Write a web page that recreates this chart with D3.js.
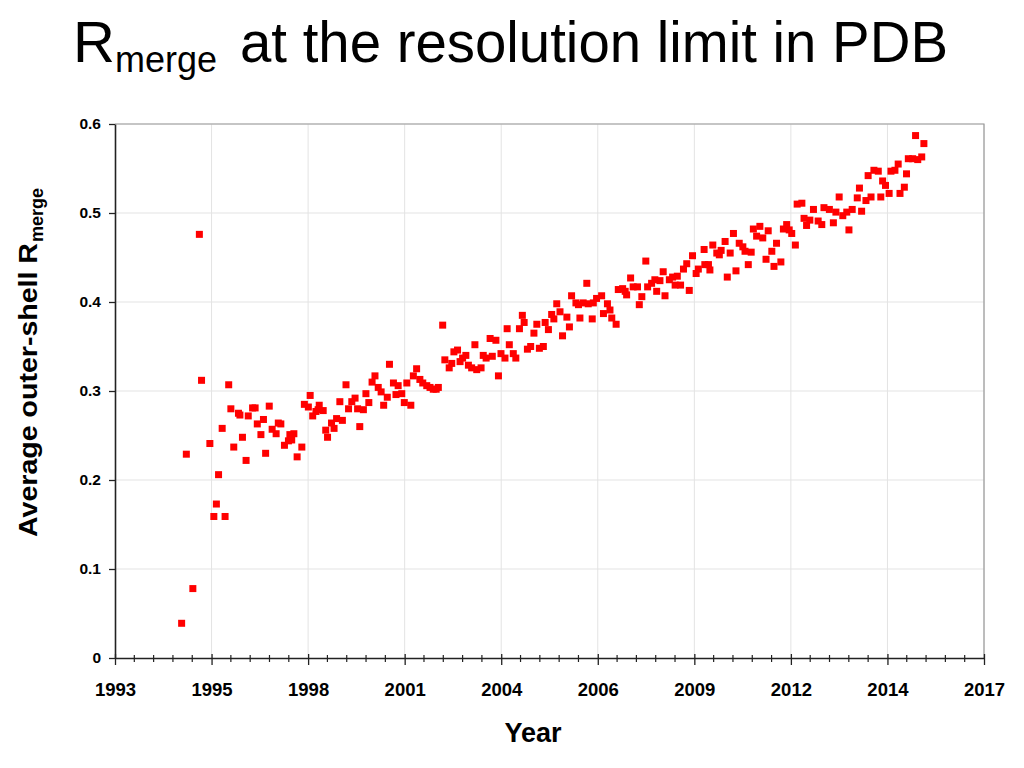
<!DOCTYPE html>
<html>
<head>
<meta charset="utf-8">
<script src="https://cdn.jsdelivr.net/npm/d3@7"></script>
<style>
  html, body { margin: 0; padding: 0; background: #fff; }
  svg { display: block; font-family: "Liberation Sans", Arial, Helvetica, sans-serif; }
</style>
</head>
<body>
<svg id="chart" width="1024" height="768"></svg>
<script>
// ---- data ----
const years = [
  1994.84, 1994.97, 1995.15, 1995.33, 1995.39, 1995.62, 1995.73, 1995.80, 1995.86, 1995.96,
  1996.04, 1996.14, 1996.20, 1996.28, 1996.41, 1996.45, 1996.52, 1996.62, 1996.68, 1996.80,
  1996.87, 1996.93, 1997.03, 1997.10, 1997.16, 1997.26, 1997.34, 1997.45, 1997.51, 1997.58,
  1997.68, 1997.79, 1997.83, 1997.88, 1997.94, 1998.03, 1998.16, 1998.23, 1998.34, 1998.39,
  1998.46, 1998.55, 1998.61, 1998.64, 1998.75, 1998.82, 1998.87, 1998.98, 1999.05, 1999.12,
  1999.21, 1999.28, 1999.38, 1999.45, 1999.54, 1999.63, 1999.70, 1999.76, 1999.86, 1999.93,
  2000.01, 2000.10, 2000.18, 2000.27, 2000.35, 2000.42, 2000.52, 2000.58, 2000.69, 2000.76,
  2000.82, 2000.92, 2000.99, 2001.06, 2001.17, 2001.24, 2001.33, 2001.42, 2001.50, 2001.61,
  2001.70, 2001.79, 2001.87, 2001.93, 2002.05, 2002.11, 2002.23, 2002.30, 2002.36, 2002.46,
  2002.53, 2002.60, 2002.69, 2002.76, 2002.85, 2002.94, 2002.99, 2003.11, 2003.17, 2003.25,
  2003.36, 2003.42, 2003.52, 2003.59, 2003.66, 2003.77, 2003.83, 2003.89, 2004.00, 2004.07,
  2004.17, 2004.25, 2004.30, 2004.39, 2004.48, 2004.57, 2004.65, 2004.72, 2004.83, 2004.88,
  2004.97, 2005.06, 2005.12, 2005.20, 2005.29, 2005.36, 2005.48, 2005.55, 2005.61, 2005.73,
  2005.80, 2005.84, 2005.93, 2006.03, 2006.07, 2006.18, 2006.21, 2006.30, 2006.44, 2006.49,
  2006.60, 2006.67, 2006.72, 2006.84, 2006.90, 2007.02, 2007.09, 2007.13, 2007.24, 2007.31,
  2007.43, 2007.48, 2007.55, 2007.66, 2007.71, 2007.82, 2007.91, 2007.96, 2008.05, 2008.14,
  2008.19, 2008.31, 2008.40, 2008.47, 2008.53, 2008.62, 2008.70, 2008.79, 2008.86, 2008.95,
  2009.05, 2009.11, 2009.27, 2009.29, 2009.39, 2009.43, 2009.51, 2009.62, 2009.69, 2009.74,
  2009.85, 2009.91, 2009.99, 2010.08, 2010.15, 2010.24, 2010.34, 2010.40, 2010.49, 2010.57,
  2010.63, 2010.72, 2010.81, 2010.89, 2010.98, 2011.04, 2011.14, 2011.20, 2011.27, 2011.39,
  2011.46, 2011.55, 2011.62, 2011.69, 2011.79, 2011.84, 2011.97, 2012.03, 2012.10, 2012.19,
  2012.29, 2012.42, 2012.52, 2012.58, 2012.73, 2012.84, 2012.91, 2013.00, 2013.10, 2013.21,
  2013.27, 2013.36, 2013.50, 2013.56, 2013.62, 2013.74, 2013.80, 2013.88, 2013.96, 2014.08,
  2014.15, 2014.20, 2014.28, 2014.38, 2014.43, 2014.54, 2014.63, 2014.68, 2014.80, 2014.86,
  2014.91, 2015.03, 2015.11, 2015.17, 2015.28, 2015.34
];
const rmerge = [
  0.039, 0.229, 0.078, 0.476, 0.312, 0.241, 0.159, 0.173, 0.206, 0.258,
  0.159, 0.307, 0.280, 0.237, 0.275, 0.273, 0.248, 0.222, 0.272, 0.281,
  0.281, 0.263, 0.251, 0.268, 0.230, 0.283, 0.257, 0.252, 0.264, 0.263,
  0.239, 0.244, 0.251, 0.245, 0.252, 0.226, 0.237, 0.285, 0.282, 0.295,
  0.272, 0.277, 0.279, 0.284, 0.278, 0.256, 0.248, 0.264, 0.258, 0.269,
  0.288, 0.267, 0.307, 0.280, 0.288, 0.292, 0.280, 0.260, 0.279, 0.297,
  0.287, 0.310, 0.317, 0.304, 0.299, 0.284, 0.293, 0.330, 0.309, 0.296,
  0.306, 0.297, 0.287, 0.309, 0.284, 0.317, 0.325, 0.313, 0.309, 0.306,
  0.304, 0.302, 0.302, 0.304, 0.374, 0.335, 0.326, 0.331, 0.344, 0.346,
  0.333, 0.337, 0.340, 0.329, 0.326, 0.352, 0.324, 0.326, 0.340, 0.337,
  0.359, 0.339, 0.357, 0.317, 0.342, 0.337, 0.370, 0.352, 0.342, 0.337,
  0.370, 0.385, 0.377, 0.347, 0.350, 0.365, 0.375, 0.348, 0.350, 0.377,
  0.369, 0.386, 0.381, 0.398, 0.389, 0.362, 0.383, 0.372, 0.407, 0.399,
  0.397, 0.382, 0.399, 0.421, 0.398, 0.381, 0.399, 0.404, 0.407, 0.387,
  0.398, 0.391, 0.382, 0.375, 0.414, 0.415, 0.412, 0.408, 0.427, 0.417,
  0.417, 0.397, 0.406, 0.446, 0.417, 0.421, 0.425, 0.412, 0.424, 0.434,
  0.407, 0.425, 0.428, 0.419, 0.429, 0.419, 0.437, 0.443, 0.413, 0.452,
  0.432, 0.437, 0.459, 0.442, 0.442, 0.436, 0.464, 0.455, 0.453, 0.458,
  0.468, 0.428, 0.455, 0.477, 0.435, 0.466, 0.462, 0.457, 0.442, 0.456,
  0.482, 0.474, 0.485, 0.472, 0.448, 0.480, 0.457, 0.440, 0.466, 0.445,
  0.482, 0.487, 0.481, 0.477, 0.464, 0.510, 0.511, 0.494, 0.486, 0.492,
  0.504, 0.491, 0.487, 0.506, 0.504, 0.489, 0.501, 0.518, 0.497, 0.501,
  0.481, 0.504, 0.517, 0.528, 0.502, 0.514, 0.542, 0.518, 0.548, 0.547,
  0.518, 0.536, 0.531, 0.522, 0.547, 0.548, 0.555, 0.522, 0.529, 0.544,
  0.561, 0.561, 0.587, 0.560, 0.563, 0.578
];
const xTickLabels = ["1993", "1995", "1998", "2001", "2004", "2006", "2009", "2012", "2014", "2017"];
const yTickValues = [0, 0.1, 0.2, 0.3, 0.4, 0.5, 0.6];

// ---- layout ----
const svg = d3.select("#chart");
const pL = 115, pR = 984, pT = 124, pB = 658;
const xMin = 1993, xMax = 2017;
const x = d3.scaleLinear().domain([xMin, xMax]).range([pL, pR]);
const y = d3.scaleLinear().domain([0, 0.6]).range([pB, pT]);
const FONT = "Liberation Sans, Arial, sans-serif";

const nMajor = xTickLabels.length - 1;
const majorTicks = d3.range(xTickLabels.length).map(i => xMin + i * (xMax - xMin) / nMajor);
const minorTicks = d3.range(nMajor * 5 + 1).map(i => xMin + i * (xMax - xMin) / (nMajor * 5));

// gridlines
const grid = svg.append("g");
grid.selectAll("line.h").data(yTickValues.slice(1)).join("line")
  .attr("x1", pL).attr("x2", pR)
  .attr("y1", d => y(d)).attr("y2", d => y(d))
  .attr("stroke", "#e3e3e3").attr("stroke-width", 1);
grid.selectAll("line.v").data(majorTicks.slice(1)).join("line")
  .attr("x1", d => x(d)).attr("x2", d => x(d))
  .attr("y1", pT).attr("y2", pB)
  .attr("stroke", "#e3e3e3").attr("stroke-width", 1);

// plot border (top/right)
svg.append("path")
  .attr("d", `M${pL},${pT}H${pR}V${pB}`)
  .attr("fill", "none").attr("stroke", "#9a9a9a").attr("stroke-width", 1.2);

// points
svg.append("g").selectAll("rect").data(years.map((yr, i) => [yr, rmerge[i]])).join("rect")
  .attr("x", d => x(d[0]) - 3.5)
  .attr("y", d => y(d[1]) - 3.5)
  .attr("width", 7).attr("height", 7)
  .attr("fill", "#ff0000");

// y axis
const yAxis = d3.axisLeft(y).tickValues(yTickValues)
  .tickFormat(d => d === 0 ? "0" : d3.format(".1f")(d))
  .tickSizeInner(6).tickSizeOuter(0).tickPadding(8);
const gy = svg.append("g").attr("transform", `translate(${pL},0)`).call(yAxis);
gy.select(".domain").attr("stroke", "#222").attr("stroke-width", 1.6);
gy.selectAll(".tick line").attr("stroke", "#222").attr("stroke-width", 1.3);
gy.selectAll(".tick text").attr("font-size", 15.5).attr("font-weight", "bold")
  .attr("fill", "#000").attr("font-family", FONT);

// x axis
const xAxis = d3.axisBottom(x).tickValues(majorTicks)
  .tickFormat((d, i) => xTickLabels[i])
  .tickSizeInner(7).tickSizeOuter(0).tickPadding(18);
const gx = svg.append("g").attr("transform", `translate(0,${pB})`).call(xAxis);
gx.select(".domain").attr("stroke", "#222").attr("stroke-width", 1.6);
gx.selectAll(".tick line").attr("y1", -4).attr("stroke", "#222").attr("stroke-width", 1.3);
gx.selectAll(".tick text").attr("font-size", 18.5).attr("font-weight", "bold")
  .attr("fill", "#000").attr("font-family", FONT);
gx.selectAll("line.minor").data(minorTicks.filter((d, i) => i % 5 !== 0)).join("line")
  .attr("class", "minor")
  .attr("x1", d => x(d)).attr("x2", d => x(d))
  .attr("y1", -3).attr("y2", 4)
  .attr("stroke", "#222").attr("stroke-width", 1.2);

// title
const title = svg.append("text").attr("x", 73).attr("y", 62)
  .attr("font-size", 58).attr("fill", "#000").attr("font-family", FONT);
title.append("tspan").text("R");
title.append("tspan").attr("font-size", 36).attr("dy", 10).text("merge");
svg.append("text").attr("x", 240).attr("y", 62)
  .attr("font-size", 58).attr("fill", "#000").attr("font-family", FONT)
  .attr("textLength", 708).attr("lengthAdjust", "spacingAndGlyphs")
  .text("at the resolution limit in PDB");

// y label
const yl = svg.append("text")
  .attr("transform", "translate(37,537) rotate(-90)")
  .attr("font-size", 26).attr("font-weight", "bold").attr("fill", "#000")
  .attr("font-family", FONT);
yl.append("tspan").attr("textLength", 294).attr("lengthAdjust", "spacingAndGlyphs")
  .text("Average outer-shell R");
yl.append("tspan").attr("font-size", 18).attr("dy", 6).attr("dx", 1).text("merge");

// x label
svg.append("text").attr("x", 533).attr("y", 742)
  .attr("text-anchor", "middle")
  .attr("font-size", 27).attr("font-weight", "bold").attr("fill", "#000")
  .attr("font-family", FONT)
  .text("Year");
</script>
</body>
</html>
